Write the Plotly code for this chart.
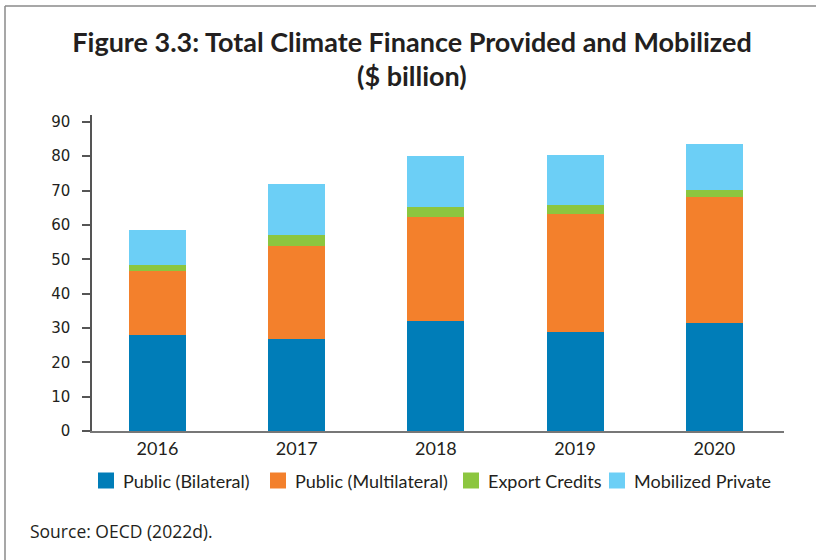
import plotly.graph_objects as go

# Climate finance provided and mobilized, $ billion
years = ["2016", "2017", "2018", "2019", "2020"]
public_bilateral = [27.9, 26.7, 32.0, 28.7, 31.4]
public_multilateral = [18.6, 27.1, 30.2, 34.4, 36.6]
export_credits = [1.8, 3.2, 3.0, 2.6, 2.1]
mobilized_private = [10.2, 14.9, 14.8, 14.7, 13.4]

series_names = ["Public (Bilateral)", "Public (Multilateral)", "Export Credits", "Mobilized Private"]
series_colors = ["#007DB8", "#F3802C", "#8CC63F", "#6CCFF6"]
series_values = [public_bilateral, public_multilateral, export_credits, mobilized_private]

y_ticks = [0, 10, 20, 30, 40, 50, 60, 70, 80, 90]

W, H = 816, 560
ML, MR, MT, MB = 92, 32, 115, 129
PW, PH = W - ML - MR, H - MT - MB


def px_x(px):
    return (px - ML) / PW


def px_y(py):
    return (H - MB - py) / PH


TEXT = "#231F20"
LABEL_FONT = "Lato"

fig = go.Figure()

for name, color, vals in zip(series_names, series_colors, series_values):
    fig.add_trace(go.Bar(
        x=years, y=vals, name=name, marker=dict(color=color, line=dict(width=0)),
        showlegend=False, hoverinfo="x+y+name",
    ))

# legend row below the axis: swatch + label per series
legend_left = [98, 270, 463, 609]
SW = 16
LEG_CY = 480.5
for left, name, color in zip(legend_left, series_names, series_colors):
    fig.add_shape(type="rect", xref="paper", yref="paper",
                  x0=px_x(left), x1=px_x(left + SW),
                  y0=px_y(LEG_CY - SW / 2), y1=px_y(LEG_CY + SW / 2),
                  fillcolor=color, line=dict(width=0))
    fig.add_annotation(text=name, xref="paper", yref="paper",
                       x=px_x(left + SW + 7), y=px_y(LEG_CY), xanchor="left", yanchor="middle",
                       showarrow=False,
                       font=dict(family=LABEL_FONT, size=18, color=TEXT))

# frame lines along the top and left edges
fig.add_shape(type="line", xref="paper", yref="paper",
              x0=px_x(5), x1=px_x(W + 2), y0=px_y(6), y1=px_y(6),
              line=dict(color="#8A8A8A", width=1.5))
fig.add_shape(type="line", xref="paper", yref="paper",
              x0=px_x(5), x1=px_x(5), y0=px_y(6), y1=px_y(H + 2),
              line=dict(color="#8A8A8A", width=1.5))

# second title line
fig.add_annotation(
    text="($ billion)", xref="paper", yref="paper",
    x=px_x(412), y=px_y(75), xanchor="center", yanchor="middle", showarrow=False,
    font=dict(family="Lato", size=27, color=TEXT, weight="bold"),
)

fig.add_annotation(
    text="Source: OECD (2022d).", xref="paper", yref="paper",
    x=px_x(28), y=px_y(531), xanchor="left", yanchor="middle", showarrow=False,
    font=dict(family="Open Sans", size=17.5, color=TEXT),
)

fig.update_layout(
    width=W, height=H,
    margin=dict(l=ML, r=MR, t=MT, b=MB),
    paper_bgcolor="white", plot_bgcolor="white",
    barmode="stack", bargap=0.59, showlegend=False,
    title=dict(
        text="Figure 3.3: Total Climate Finance Provided and Mobilized",
        x=412 / W, xanchor="center", xref="container",
        y=1 - 43 / H, yanchor="middle", yref="container",
        font=dict(family="Lato", size=27, color=TEXT, weight="bold"),
    ),
    xaxis=dict(
        type="category", range=[-0.47, 4.5], showline=True, linecolor="#777777", linewidth=2,
        ticks="", showgrid=False, zeroline=False,
        tickfont=dict(family=LABEL_FONT, size=18, color=TEXT),
    ),
    yaxis=dict(
        range=[0, 92], tickvals=y_ticks, showline=True, linecolor="#555555", linewidth=1.5,
        ticks="outside", ticklen=8, tickwidth=1.5, tickcolor="#555555",
        ticklabelstandoff=9,
        showgrid=False, zeroline=False,
        tickfont=dict(family="DejaVu Sans", size=15, color=TEXT),
    ),
    font=dict(family=LABEL_FONT, color=TEXT),
)

fig.write_html("out.html")
